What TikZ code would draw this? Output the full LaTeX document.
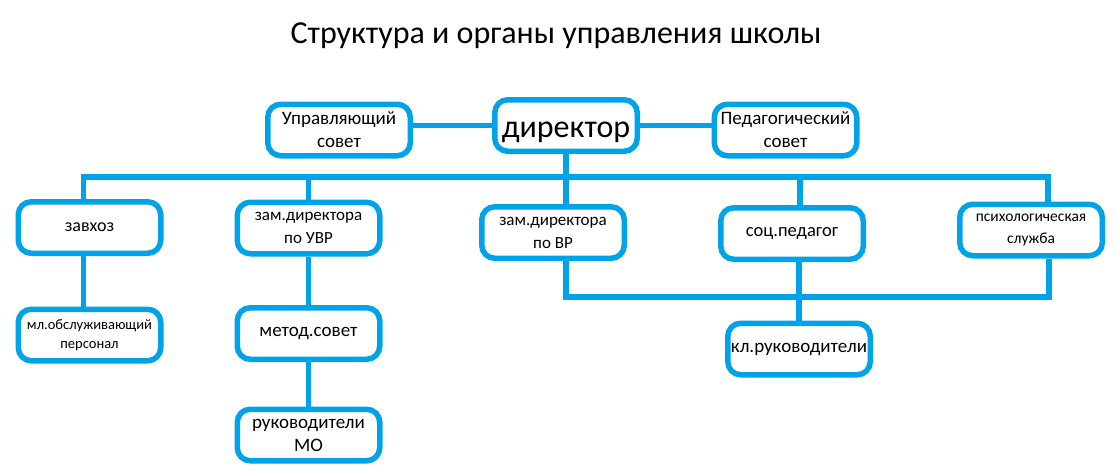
\documentclass[tikz,border=0pt]{standalone}
\usepackage{fontspec}
\setmainfont{Carlito}
\usetikzlibrary{positioning}
\definecolor{paintblue}{RGB}{0,162,232}

\begin{document}
\begin{tikzpicture}[x=1pt,y=-1pt,on grid,
  unit/.style={draw=paintblue,line width=5.5pt,rounded corners=13pt,
    minimum width=142.5pt,minimum height=51.5pt,inner sep=2pt,align=center,
    font=\fontsize{19}{23}\selectfont},
  smallunit/.style={unit,font=\fontsize{17}{23}\selectfont},
  link/.style={draw=paintblue,line width=5.5pt}]
\useasboundingbox (0,0) rectangle (1114,475);
\node[anchor=base,font=\fontsize{32}{36}\selectfont] (title) at (556,43.5) {Структура и органы управления школы};

\node[unit,font=\fontsize{32}{36}\selectfont,text height=27pt,text depth=4pt] (dir) at (566,125.5) {директор};
\node[unit] (upr) at (339,130) {Управляющий\\совет};
\node[unit] (ped) at (785.5,130) {Педагогический\\совет};

\node[unit,font=\fontsize{18}{22}\selectfont] (zavhoz) at (89.5,227.5) {завхоз};
\node[smallunit] (uvr) at (308.5,228) {зам.директора\\по УВР};
\node[smallunit] (vr) at (553,232.5) {зам.директора\\по ВР};
\node[unit,font=\fontsize{18.5}{22}\selectfont] (soc) at (792,233.5) {соц.педагог};
\node[smallunit,font=\fontsize{15.5}{22}\selectfont] (psy) at (1031,230) {психологическая\\служба};

\node[unit,font=\fontsize{14.5}{19}\selectfont, below = 107.5pt of zavhoz] (ml) {мл.обслуживающий\\персонал};
\node[unit, below = 105.5pt of uvr] (metod) {метод.совет};
\node[unit, below = 101.5pt of metod] (rukmo) {руководители\\МО};
\node[unit, below right = 115.5pt and 7pt of soc] (kl) {кл.руководители};

\coordinate (bus) at (0,177);
\coordinate (lowbus) at (0,297);

% top row
\path[link] (dir.west) -- (dir.west -| upr.east);
\path[link] (dir.east) -- (dir.east -| ped.west);
% director to the bus
\path[link] (dir) -- (dir |- vr.north);
\path[link] ([xshift=-6pt]zavhoz.north) -- ([xshift=-6pt]zavhoz.north |- bus)
  -- ([xshift=17pt]psy.north |- bus) -- ([xshift=17pt]psy.north);
\path[link] (uvr.north) -- (uvr.north |- bus);
\path[link] ([xshift=8pt]soc.north) -- ([xshift=8pt]soc.north |- bus);
% lower links
\path[link] ([xshift=-6pt]zavhoz.south) -- ([xshift=-6pt]zavhoz.south |- ml.north);
\path[link] (uvr) -- (metod) -- (rukmo);
\path[link] ([xshift=13pt]vr.south) -- ([xshift=13pt]vr.south |- lowbus)
  -- ([xshift=18pt]psy.south |- lowbus) -- ([xshift=18pt]psy.south);
\path[link] (kl.north |- soc.south) -- (kl.north);
\end{tikzpicture}
\end{document}
